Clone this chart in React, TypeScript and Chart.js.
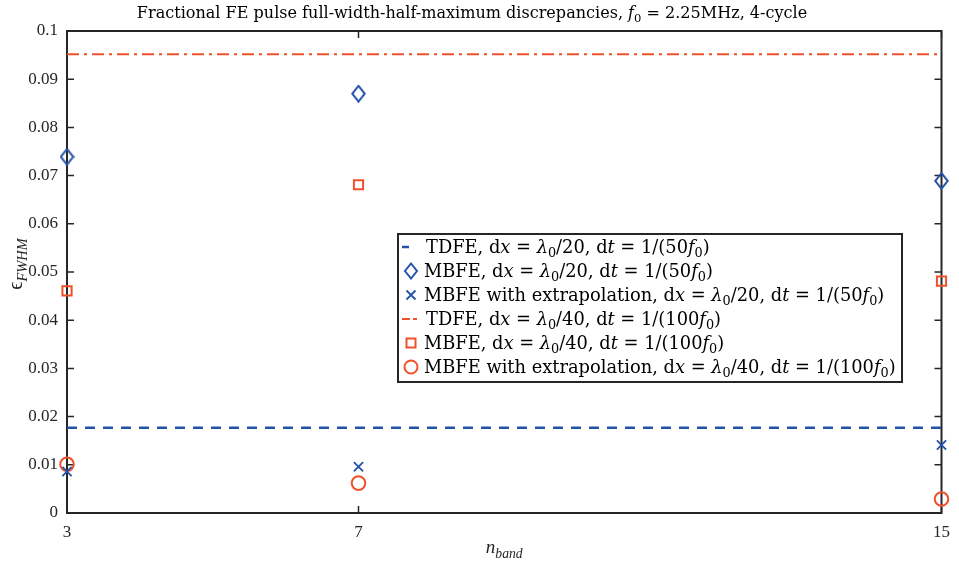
import React, { useEffect, useRef } from 'react';
import { Chart, registerables } from 'chart.js';

Chart.register(...registerables);

// ---------------- data ----------------
const X_VALUES = [3, 7, 15];
const X_TICKS = [3, 7, 15];
const Y_TICKS = [0, 0.01, 0.02, 0.03, 0.04, 0.05, 0.06, 0.07, 0.08, 0.09, 0.1];
const Y_TICK_LABELS = ['0', '0.01', '0.02', '0.03', '0.04', '0.05', '0.06', '0.07', '0.08', '0.09', '0.1'];
const LINE_X = [3, 15];
const TDFE_20 = [0.0177, 0.0177];
const TDFE_40 = [0.0952, 0.0952];
const MBFE_20 = [0.0739, 0.087, 0.0689];
const MBFE_EXT_20 = [0.0086, 0.0096, 0.0141];
const MBFE_40 = [0.0461, 0.0681, 0.0481];
const MBFE_EXT_40 = [0.0101, 0.0062, 0.0029];

// ---------------- styles ----------------
const FAMILY = '"Liberation Serif", "DejaVu Serif", serif';
const RICH_FAMILY = '"DejaVu Serif", "Liberation Serif", serif';
const TEXT = '#262626';
const BLUE = '#2352a8';
const RED = '#f0512b';

type Seg = { t: string; i?: boolean; s?: boolean };
const N = (t: string): Seg => ({ t });
const I = (t: string): Seg => ({ t, i: true });
const S = (t: string): Seg => ({ t, s: true });
const IS = (t: string): Seg => ({ t, i: true, s: true });

const TITLE: Seg[] = [
  N('Fractional FE pulse full-width-half-maximum discrepancies, '),
  I('f'), S('0'), N(' = 2.25MHz, 4-cycle'),
];
const lab = (pre: string, dx: string, dt: string): Seg[] => [
  N(pre + ', d'), I('x'), N(' = '), I('λ'), S('0'), N('/' + dx + ', d'), I('t'),
  N(' = 1/(' + dt), I('f'), S('0'), N(')'),
];
const LEGEND_LABELS: Seg[][] = [
  lab('TDFE', '20', '50'),
  lab('MBFE', '20', '50'),
  lab('MBFE with extrapolation', '20', '50'),
  lab('TDFE', '40', '100'),
  lab('MBFE', '40', '100'),
  lab('MBFE with extrapolation', '40', '100'),
];
const Y_LABEL: Seg[] = [N('ϵ'), IS('FWHM')];
const X_LABEL: Seg[] = [I('n'), IS('band')];

let curFamily = RICH_FAMILY;
function segFont(s: Seg, size: number) {
  const sz = s.s ? size * 0.72 : size;
  return `${s.i ? 'italic ' : ''}${sz}px ${curFamily}`;
}
function richWidth(ctx: CanvasRenderingContext2D, segs: Seg[], size: number) {
  let w = 0;
  for (const s of segs) {
    ctx.font = segFont(s, size);
    w += ctx.measureText(s.t).width;
  }
  return w;
}
function drawRich(ctx: CanvasRenderingContext2D, segs: Seg[], x: number, y: number, size: number, align: 'left' | 'center') {
  const w = richWidth(ctx, segs, size);
  let cx = align === 'center' ? x - w / 2 : x;
  ctx.textAlign = 'left';
  ctx.textBaseline = 'alphabetic';
  for (const s of segs) {
    ctx.font = segFont(s, size);
    ctx.fillText(s.t, cx, s.s ? y + size * 0.24 : y);
    cx += ctx.measureText(s.t).width;
  }
}
function fitSize(ctx: CanvasRenderingContext2D, segs: Seg[], target: number, base: number) {
  const w = richWidth(ctx, segs, base);
  return Math.max(12, Math.min(22, (base * target) / w));
}

function diamondImage() {
  const c = document.createElement('canvas');
  c.width = 15;
  c.height = 18;
  const g = c.getContext('2d')!;
  g.strokeStyle = BLUE;
  g.lineWidth = 2;
  g.beginPath();
  g.moveTo(7.5, 1.2);
  g.lineTo(13.8, 9);
  g.lineTo(7.5, 16.8);
  g.lineTo(1.2, 9);
  g.closePath();
  g.stroke();
  return c;
}

const decorPlugin = {
  id: 'decor',
  beforeDatasetsDraw(chart: any) {
    const { ctx, chartArea: ca, scales } = chart;
    ctx.save();
    ctx.strokeStyle = TEXT;
    ctx.lineWidth = 1.5;
    ctx.beginPath();
    for (const v of Y_TICKS) {
      const y = scales.y.getPixelForValue(v);
      ctx.moveTo(ca.left, y);
      ctx.lineTo(ca.left + 7, y);
      ctx.moveTo(ca.right, y);
      ctx.lineTo(ca.right - 7, y);
    }
    for (const v of X_TICKS) {
      const x = scales.x.getPixelForValue(v);
      ctx.moveTo(x, ca.bottom);
      ctx.lineTo(x, ca.bottom - 7);
      ctx.moveTo(x, ca.top);
      ctx.lineTo(x, ca.top + 7);
    }
    ctx.stroke();
    ctx.lineWidth = 2;
    ctx.strokeRect(ca.left, ca.top, ca.right - ca.left, ca.bottom - ca.top);
    ctx.restore();
  },
  afterDatasetsDraw(chart: any) {
    const { ctx, chartArea: ca } = chart;
    ctx.save();
    ctx.fillStyle = '#000';
    // title
    curFamily = RICH_FAMILY;
    const tSize = fitSize(ctx, TITLE, 671, 16);
    drawRich(ctx, TITLE, 472, 18, tSize, 'center');
    // axis labels
    curFamily = FAMILY;
    ctx.fillStyle = TEXT;
    drawRich(ctx, X_LABEL, (ca.left + ca.right) / 2, 553, 19, 'center');
    ctx.save();
    ctx.translate(22, 264);
    ctx.rotate(-Math.PI / 2);
    drawRich(ctx, Y_LABEL, 0, 0, 20, 'center');
    ctx.restore();

    // legend
    curFamily = RICH_FAMILY;
    const bx = ca.left + 331;
    const by = ca.top + 203;
    const bw = 504;
    const bh = 148;
    ctx.fillStyle = '#fff';
    ctx.fillRect(bx, by, bw, bh);
    ctx.strokeStyle = TEXT;
    ctx.lineWidth = 2;
    ctx.strokeRect(bx, by, bw, bh);
    const lSize = fitSize(ctx, LEGEND_LABELS[5], 472, 16);
    for (let i = 0; i < 6; i++) {
      const cy = by + 13 + i * 24;
      const mx = bx + 13;
      ctx.lineWidth = 2;
      if (i === 0) {
        ctx.strokeStyle = BLUE;
        ctx.lineWidth = 2.5;
        ctx.beginPath();
        ctx.moveTo(bx + 4, cy);
        ctx.lineTo(bx + 11, cy);
        ctx.stroke();
      } else if (i === 1) {
        ctx.strokeStyle = BLUE;
        ctx.beginPath();
        ctx.moveTo(mx, cy - 7.5);
        ctx.lineTo(mx + 6, cy);
        ctx.lineTo(mx, cy + 7.5);
        ctx.lineTo(mx - 6, cy);
        ctx.closePath();
        ctx.stroke();
      } else if (i === 2) {
        ctx.strokeStyle = BLUE;
        ctx.lineWidth = 1.8;
        ctx.beginPath();
        ctx.moveTo(mx - 4.5, cy - 4.5);
        ctx.lineTo(mx + 4.5, cy + 4.5);
        ctx.moveTo(mx + 4.5, cy - 4.5);
        ctx.lineTo(mx - 4.5, cy + 4.5);
        ctx.stroke();
      } else if (i === 3) {
        ctx.strokeStyle = RED;
        ctx.lineWidth = 2;
        ctx.beginPath();
        ctx.moveTo(bx + 4, cy);
        ctx.lineTo(bx + 12, cy);
        ctx.moveTo(bx + 15, cy);
        ctx.lineTo(bx + 19, cy);
        ctx.stroke();
      } else if (i === 4) {
        ctx.strokeStyle = RED;
        ctx.strokeRect(mx - 4.5, cy - 4.5, 9, 9);
      } else {
        ctx.strokeStyle = RED;
        ctx.beginPath();
        ctx.arc(mx, cy, 6.5, 0, Math.PI * 2);
        ctx.stroke();
      }
      ctx.fillStyle = '#000';
      const tx = i === 0 || i === 3 ? bx + 28 : bx + 26;
      drawRich(ctx, LEGEND_LABELS[i], tx, cy + 5.5, lSize, 'left');
    }
    ctx.restore();
  },
};

const pts = (ys: number[]) => X_VALUES.map((x, i) => ({ x, y: ys[i] }));
const line = (ys: number[]) => LINE_X.map((x, i) => ({ x, y: ys[i] }));

export default function App() {
  const ref = useRef<HTMLCanvasElement | null>(null);
  useEffect(() => {
    if (!ref.current) return;
    Chart.defaults.font.family = FAMILY;
    const chart = new Chart(ref.current, {
      type: 'scatter',
      data: {
        datasets: [
          {
            label: 'TDFE 20',
            data: line(TDFE_20),
            showLine: true,
            borderColor: BLUE,
            borderWidth: 2.5,
            borderDash: [10, 8],
            pointRadius: 0,
          },
          {
            label: 'MBFE 20',
            data: pts(MBFE_20),
            pointStyle: diamondImage() as any,
            pointRadius: 8,
            borderColor: BLUE,
            backgroundColor: 'rgba(0,0,0,0)',
          },
          {
            label: 'MBFE ext 20',
            data: pts(MBFE_EXT_20),
            pointStyle: 'crossRot',
            pointRadius: 6.5,
            pointBorderWidth: 1.8,
            borderColor: BLUE,
            backgroundColor: 'rgba(0,0,0,0)',
          },
          {
            label: 'TDFE 40',
            data: line(TDFE_40),
            showLine: true,
            borderColor: RED,
            borderWidth: 2,
            borderDash: [12, 5, 3, 5],
            pointRadius: 0,
          },
          {
            label: 'MBFE 40',
            data: pts(MBFE_40),
            pointStyle: 'rect',
            pointRadius: 6.5,
            pointBorderWidth: 2,
            borderColor: RED,
            backgroundColor: 'rgba(0,0,0,0)',
          },
          {
            label: 'MBFE ext 40',
            data: pts(MBFE_EXT_40),
            pointStyle: 'circle',
            pointRadius: 6.8,
            pointBorderWidth: 2,
            borderColor: RED,
            backgroundColor: 'rgba(0,0,0,0)',
          },
        ] as any,
      },
      options: {
        animation: false,
        responsive: false,
        maintainAspectRatio: false,
        clip: false as any,
        layout: { padding: { top: 31, right: 13, left: 0, bottom: 0 } },
        plugins: { legend: { display: false }, tooltip: { enabled: false }, title: { display: false } },
        scales: {
          x: {
            type: 'linear',
            min: 3,
            max: 15,
            grid: { display: false, drawTicks: false },
            border: { display: false },
            afterBuildTicks: (axis: any) => {
              axis.ticks = X_TICKS.map((v) => ({ value: v }));
            },
            afterFit: (axis: any) => {
              axis.height = 52;
            },
            ticks: {
              color: TEXT,
              padding: 9,
              font: { size: 17, family: FAMILY },
              callback: (v: any) => String(v),
              maxRotation: 0,
              autoSkip: false,
            },
          },
          y: {
            type: 'linear',
            min: 0,
            max: 0.1,
            grid: { display: false, drawTicks: false },
            border: { display: false },
            afterBuildTicks: (axis: any) => {
              axis.ticks = Y_TICKS.map((v) => ({ value: v }));
            },
            afterFit: (axis: any) => {
              axis.width = 67;
            },
            ticks: {
              color: TEXT,
              padding: 9,
              font: { size: 17, family: FAMILY },
              callback: (_v: any, idx: number) => Y_TICK_LABELS[idx],
              autoSkip: false,
            },
          },
        },
      },
      plugins: [decorPlugin],
    } as any);
    return () => chart.destroy();
  }, []);
  return (
    <div style={{ position: 'fixed', left: 0, top: 0, width: 959, height: 565, background: '#fff' }}>
      <canvas ref={ref} width={959} height={565} style={{ width: 959, height: 565, display: 'block' }} />
    </div>
  );
}
